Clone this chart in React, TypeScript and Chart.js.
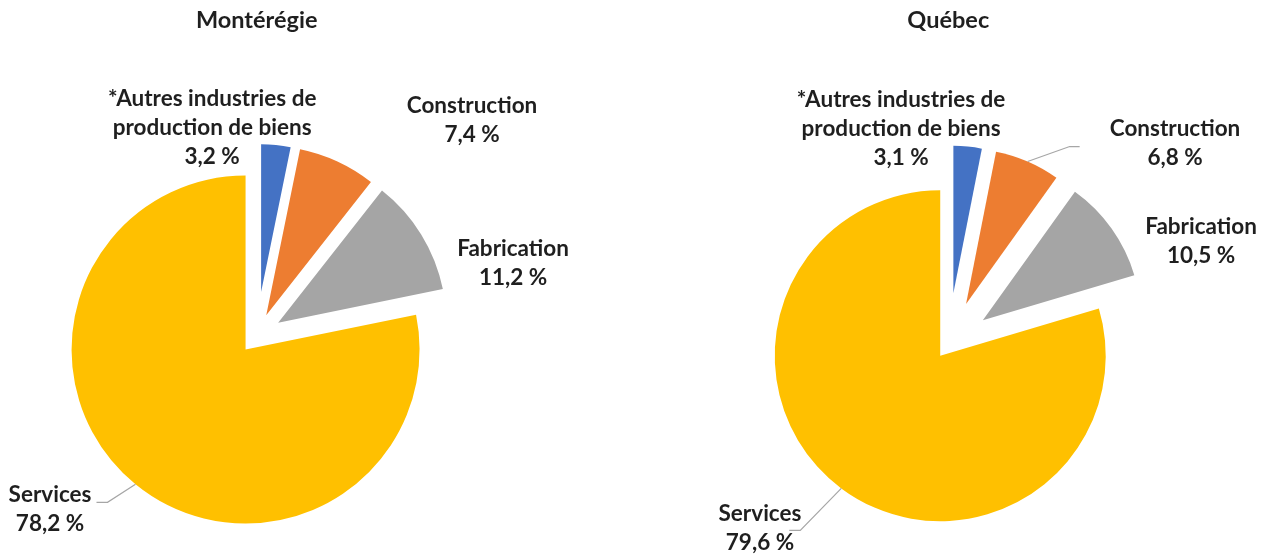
import React, { useEffect, useRef } from 'react';
import { Chart, registerables } from 'chart.js';

Chart.register(...registerables);

// ---------- data ----------
const categories = [
  '*Autres industries de production de biens',
  'Construction',
  'Fabrication',
  'Services',
];
const labelLines = [
  ['*Autres industries de', 'production de biens'],
  ['Construction'],
  ['Fabrication'],
  ['Services'],
];
const monteregieValues = [3.2, 7.4, 11.2, 78.2];
const quebecValues = [3.1, 6.8, 10.5, 79.6];
const titles = ['Montérégie', 'Québec'];

// ---------- styles / layout ----------
const sliceColors = ['#4472C4', '#ED7D31', '#A5A5A5', '#FFC000'];
const textColor = '#1f1f1f';
const leaderColor = '#A6A6A6';
const fontFamily = 'Lato, "Open Sans", sans-serif';
const labelFontSize = 22.5;
const labelLineHeight = 29;
const titleFontSize = 23.5;
const titlePadTop = 6;

const CANVAS_W = 637;
const CANVAS_H = 554;

const pieLayouts = [
  {
    left: 0,
    padRight: 123.6,
    chartTop: 117.8,
    radius: 174,
    explode: [44, 22.7, 25.2, 17.6],
    radiusScale: [0.85, 0.974, 0.966, 1],
    labelNudge: [[-63.8, -17.4], [134.6, -41.5], [91.9, 29], [-85.5, 25.2]],
    leaderElbow: [null, null, null, [-28, 18]],
  },
  {
    left: 637,
    padRight: 14.4,
    chartTop: 135.8,
    radius: 165.5,
    explode: [52, 44.7, 42.4, 13.5],
    radiusScale: [0.89, 0.937, 0.955, 1],
    labelNudge: [[-66.6, -17.3], [147.4, -18.1], [89.5, 12.3], [-81.3, 39.6]],
    leaderElbow: [null, [42, -15], null, [-41, 42]],
  },
];

const fmt = (v: number) => v.toFixed(1).replace('.', ',') + ' %';

function makePlugin(layout: any, values: number[]) {
  return {
    id: 'explodeAndLabels',
    beforeDatasetDraw(chart: any, args: any) {
      const meta = chart.getDatasetMeta(args.index);
      const ca = chart.chartArea;
      const cx = (ca.left + ca.right) / 2;
      const cy = (ca.top + ca.bottom) / 2;
      const base = meta.controller.outerRadius;
      meta.data.forEach((arc: any, i: number) => {
        const mid = (arc.startAngle + arc.endAngle) / 2;
        const d = layout.explode[i];
        arc.x = cx + Math.cos(mid) * d;
        arc.y = cy + Math.sin(mid) * d;
        arc.outerRadius = base * layout.radiusScale[i];
      });
    },
    afterDatasetsDraw(chart: any) {
      const ctx = chart.ctx;
      const meta = chart.getDatasetMeta(0);
      ctx.save();
      meta.data.forEach((arc: any, i: number) => {
        const mid = (arc.startAngle + arc.endAngle) / 2;
        const px = arc.x + Math.cos(mid) * arc.outerRadius;
        const py = arc.y + Math.sin(mid) * arc.outerRadius;
        const [nx, ny] = layout.labelNudge[i];
        const lx = px + nx;
        const ly = py + ny;
        const elbow = layout.leaderElbow[i];
        if (elbow) {
          const ex = px + elbow[0];
          const ey = py + elbow[1];
          const tail = elbow[0] < 0 ? -11 : 10;
          ctx.beginPath();
          ctx.strokeStyle = leaderColor;
          ctx.lineWidth = 1.2;
          ctx.moveTo(px, py);
          ctx.lineTo(ex, ey);
          ctx.lineTo(ex + tail, ey);
          ctx.stroke();
        }
        const lines = [...labelLines[i], fmt(values[i])];
        ctx.font = `bold ${labelFontSize}px ${fontFamily}`;
        ctx.fillStyle = textColor;
        ctx.textAlign = 'center';
        ctx.textBaseline = 'middle';
        const y0 = ly - ((lines.length - 1) * labelLineHeight) / 2;
        lines.forEach((t, k) => ctx.fillText(t, lx, y0 + k * labelLineHeight));
      });
      ctx.restore();
    },
  };
}

function PieChart({ idx, values }: { idx: number; values: number[] }) {
  const ref = useRef<HTMLCanvasElement | null>(null);
  const layout = pieLayouts[idx];
  useEffect(() => {
    if (!ref.current) return;
    const titleBoxH = titlePadTop + titleFontSize * 1.2;
    const chart = new Chart(ref.current, {
      type: 'pie',
      data: {
        labels: categories,
        datasets: [
          {
            data: values,
            backgroundColor: sliceColors,
            borderWidth: 0,
            radius: layout.radius,
            clip: false,
          } as any,
        ],
      },
      options: {
        responsive: false,
        animation: false,
        devicePixelRatio: 1,
        events: [],
        layout: { padding: { left: 0, right: layout.padRight, top: 0, bottom: 0 } },
        plugins: {
          legend: { display: false },
          tooltip: { enabled: false },
          title: {
            display: true,
            text: titles[idx],
            color: textColor,
            font: { family: fontFamily, size: titleFontSize, weight: 'bold', lineHeight: 1.2 },
            padding: { top: titlePadTop, bottom: layout.chartTop - titleBoxH },
          },
        },
      } as any,
      plugins: [makePlugin(layout, values)],
    });
    return () => chart.destroy();
  }, []);
  return (
    <canvas
      ref={ref}
      width={CANVAS_W}
      height={CANVAS_H}
      style={{ position: 'absolute', left: layout.left, top: 0, width: CANVAS_W, height: CANVAS_H }}
    />
  );
}

export default function App() {
  return (
    <div style={{ position: 'fixed', left: 0, top: 0, width: 1274, height: 554, background: '#ffffff' }}>
      <PieChart idx={0} values={monteregieValues} />
      <PieChart idx={1} values={quebecValues} />
    </div>
  );
}
